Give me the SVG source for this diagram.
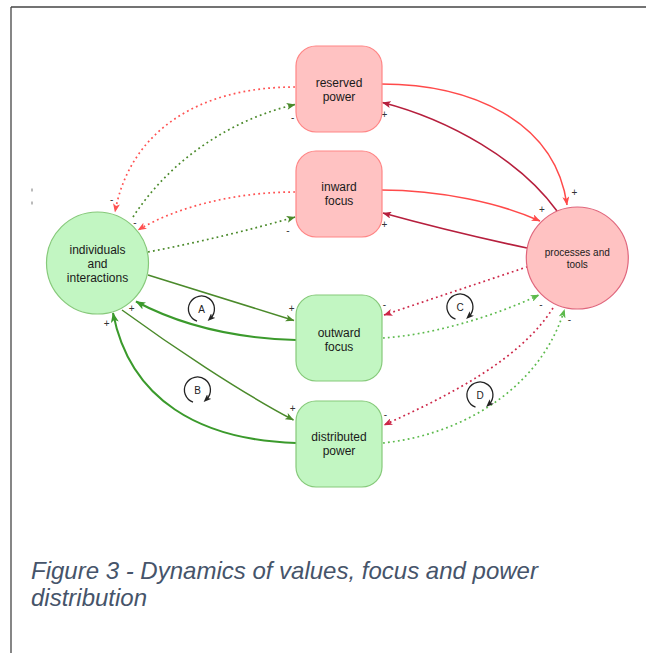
<svg xmlns="http://www.w3.org/2000/svg" width="646" height="653" viewBox="0 0 646 653">
  <style>
    .lbl { font-family: "Liberation Sans", Arial, sans-serif; font-size: 12px; fill: #1a1a1a; text-anchor: middle; }
    .small { font-size: 10px; }
    .sign { font-family: "Liberation Sans", Arial, sans-serif; font-size: 10px; fill: #333; text-anchor: middle; }
    .loop-letter { font-family: "Liberation Sans", Arial, sans-serif; font-size: 10px; fill: #222; text-anchor: middle; }
    .redNode { fill: #ffc2c2; stroke: #ff8585; stroke-width: 1.2; }
    .greenNode { fill: #c2f6c2; stroke: #86c97a; stroke-width: 1.2; }
    .procNode { fill: #ffc2c2; stroke: #e0667c; stroke-width: 1.2; }
    .edge { fill: none; }
    .dot { stroke-dasharray: 1.8 3.2; stroke-width: 1.7; }
    .caption { font-family: "Liberation Sans", Arial, sans-serif; font-size: 24px; font-style: italic; fill: #46546a; }
  </style>
  <defs>
    <marker id="mRed" viewBox="0 0 10 8" refX="9.5" refY="4" markerWidth="9" markerHeight="7" markerUnits="userSpaceOnUse" orient="auto">
      <path d="M0,0 L10,4 L0,8 L2.5,4 Z" fill="#ff4a4a"/>
    </marker>
    <marker id="mCrimson" viewBox="0 0 10 8" refX="9.5" refY="4" markerWidth="9" markerHeight="7" markerUnits="userSpaceOnUse" orient="auto">
      <path d="M0,0 L10,4 L0,8 L2.5,4 Z" fill="#b61f3d"/>
    </marker>
    <marker id="mRedDot" viewBox="0 0 10 8" refX="9.5" refY="4" markerWidth="9" markerHeight="7" markerUnits="userSpaceOnUse" orient="auto">
      <path d="M0,0 L10,4 L0,8 L2.5,4 Z" fill="#ff5252"/>
    </marker>
    <marker id="mCrimsonDot" viewBox="0 0 10 8" refX="9.5" refY="4" markerWidth="9" markerHeight="7" markerUnits="userSpaceOnUse" orient="auto">
      <path d="M0,0 L10,4 L0,8 L2.5,4 Z" fill="#cc2748"/>
    </marker>
    <marker id="mGreenDark" viewBox="0 0 10 8" refX="9.5" refY="4" markerWidth="9" markerHeight="7" markerUnits="userSpaceOnUse" orient="auto">
      <path d="M0,0 L10,4 L0,8 L2.5,4 Z" fill="#4b8a2b"/>
    </marker>
    <marker id="mGreenBright" viewBox="0 0 10 8" refX="9.5" refY="4" markerWidth="10" markerHeight="8" markerUnits="userSpaceOnUse" orient="auto">
      <path d="M0,0 L10,4 L0,8 L2.5,4 Z" fill="#3b9a2c"/>
    </marker>
    <marker id="mGreenLight" viewBox="0 0 10 8" refX="9.5" refY="4" markerWidth="9" markerHeight="7" markerUnits="userSpaceOnUse" orient="auto">
      <path d="M0,0 L10,4 L0,8 L2.5,4 Z" fill="#5cba4c"/>
    </marker>
    <marker id="mLoop" viewBox="0 0 10 8" refX="5" refY="4" markerWidth="8" markerHeight="6.5" markerUnits="userSpaceOnUse" orient="auto">
      <path d="M0,0 L10,4 L0,8 L2.5,4 Z" fill="#222"/>
    </marker>
  </defs>

  <rect x="0" y="0" width="646" height="653" fill="#ffffff"/>

  <!-- page frame -->
  <g id="frame" stroke="#444" stroke-width="1.3" fill="none">
    <line x1="11" y1="7" x2="646" y2="7"/>
    <line x1="11" y1="7" x2="11" y2="653"/>
  </g>
  <g id="tick-marks" stroke="#777" stroke-width="1">
    <line x1="32" y1="188.5" x2="32" y2="191.5"/>
    <line x1="32" y1="201.5" x2="32" y2="204.5"/>
  </g>

  <!-- connectors -->
  <g id="connectors" class="edge">
    <!-- red / crimson solid links with processes and tools -->
    <path class="edge" d="M381,84 C470,84 555,120 567,205" stroke="#ff4a4a" stroke-width="1.5" marker-end="url(#mRed)"/>
    <path class="edge" d="M557,211 C520,160 450,120 382.5,102.5" stroke="#b61f3d" stroke-width="1.6" marker-end="url(#mCrimson)"/>
    <path class="edge" d="M381,190 C440,190 500,203 540,221" stroke="#ff4a4a" stroke-width="1.5" marker-end="url(#mRed)"/>
    <path class="edge" d="M527,248 C480,238 430,226 383,213" stroke="#b61f3d" stroke-width="1.6" marker-end="url(#mCrimson)"/>

    <!-- dotted links between individuals and the red boxes -->
    <path class="edge dot" d="M295,87 C200,87 130,130 115,212" stroke="#ff5252" marker-end="url(#mRedDot)"/>
    <path class="edge dot" d="M133,217 C170,160 230,120 295,104.5" stroke="#4b8a2b" marker-end="url(#mGreenDark)"/>
    <path class="edge dot" d="M295,192 C240,192 180,205 138,230" stroke="#ff5252" marker-end="url(#mRedDot)"/>
    <path class="edge dot" d="M148,252 C200,242 250,230 295,217" stroke="#4b8a2b" marker-end="url(#mGreenDark)"/>

    <!-- solid green links between individuals and the green boxes -->
    <path class="edge" d="M148,275 L294,320.5" stroke="#4b8a2b" stroke-width="1.5" marker-end="url(#mGreenDark)"/>
    <path class="edge" d="M296,340 C230,338 180,325 136,301.5" stroke="#3b9a2c" stroke-width="2" marker-end="url(#mGreenBright)"/>
    <path class="edge" d="M122,310 C170,345 240,392 293.5,420" stroke="#4b8a2b" stroke-width="1.5" marker-end="url(#mGreenDark)"/>
    <path class="edge" d="M296,443 C200,440 130,400 113,313" stroke="#3b9a2c" stroke-width="2" marker-end="url(#mGreenBright)"/>

    <!-- dotted links between processes and the green boxes -->
    <path class="edge dot" d="M527.7,266.7 L384,315" stroke="#cc2748" marker-end="url(#mCrimsonDot)"/>
    <path class="edge dot" d="M383,338 C430,335 490,318 539,295" stroke="#5cba4c" marker-end="url(#mGreenLight)"/>
    <path class="edge dot" d="M553,308 C520,360 450,395 384,425" stroke="#cc2748" marker-end="url(#mCrimsonDot)"/>
    <path class="edge dot" d="M383,443 C460,435 540,390 564.5,309.5" stroke="#5cba4c" marker-end="url(#mGreenLight)"/>
  </g>

  <!-- polarity signs at connector ends -->
  <g id="polarity">
    <text class="sign" x="111.7" y="203">-</text>
    <text class="sign" x="292.7" y="120.5">-</text>
    <text class="sign" x="135" y="226">-</text>
    <text class="sign" x="288" y="233.5">-</text>
    <text class="sign" x="291.7" y="312">+</text>
    <text class="sign" x="131.7" y="312">+</text>
    <text class="sign" x="292.7" y="411.8">+</text>
    <text class="sign" x="106.7" y="326.8">+</text>
    <text class="sign" x="574.3" y="196.2">+</text>
    <text class="sign" x="384.3" y="117.8">+</text>
    <text class="sign" x="542" y="212.8">+</text>
    <text class="sign" x="384.3" y="227.5">+</text>
    <text class="sign" x="384.3" y="308.3">-</text>
    <text class="sign" x="541" y="307.8">-</text>
    <text class="sign" x="385.3" y="418.3">-</text>
    <text class="sign" x="569.3" y="323.3">-</text>
  </g>

  <!-- feedback loop markers -->
  <g id="loop-A">
    <path d="M197,321.2 A13,13 0 1 1 210.5,318.3" fill="none" stroke="#222" stroke-width="1.3" marker-end="url(#mLoop)"/>
    <text class="loop-letter" x="201.5" y="312.6">A</text>
  </g>
  <g id="loop-B">
    <path d="M193,402.2 A13,13 0 1 1 206.5,399.3" fill="none" stroke="#222" stroke-width="1.3" marker-end="url(#mLoop)"/>
    <text class="loop-letter" x="197.5" y="393.6">B</text>
  </g>
  <g id="loop-C">
    <path d="M455.5,319.2 A13,13 0 1 1 469,316.3" fill="none" stroke="#222" stroke-width="1.3" marker-end="url(#mLoop)"/>
    <text class="loop-letter" x="460" y="310.6">C</text>
  </g>
  <g id="loop-D">
    <path d="M475.5,407.2 A13,13 0 1 1 489,404.3" fill="none" stroke="#222" stroke-width="1.3" marker-end="url(#mLoop)"/>
    <text class="loop-letter" x="480" y="398.6">D</text>
  </g>

  <!-- nodes -->
  <g id="reserved-power">
    <rect class="redNode" x="296" y="46" width="86" height="86" rx="20" ry="20"/>
    <text class="lbl" x="339" y="87">reserved</text>
    <text class="lbl" x="339" y="101">power</text>
  </g>
  <g id="inward-focus">
    <rect class="redNode" x="296" y="151" width="86" height="86" rx="20" ry="20"/>
    <text class="lbl" x="339" y="191">inward</text>
    <text class="lbl" x="339" y="205">focus</text>
  </g>
  <g id="outward-focus">
    <rect class="greenNode" x="296" y="295" width="86" height="86" rx="20" ry="20"/>
    <text class="lbl" x="339" y="337">outward</text>
    <text class="lbl" x="339" y="351">focus</text>
  </g>
  <g id="distributed-power">
    <rect class="greenNode" x="296" y="401" width="86" height="86" rx="20" ry="20"/>
    <text class="lbl" x="339" y="441">distributed</text>
    <text class="lbl" x="339" y="455">power</text>
  </g>
  <g id="individuals-and-interactions">
    <circle class="greenNode" cx="97.5" cy="263" r="51"/>
    <text class="lbl" x="97.5" y="254">individuals</text>
    <text class="lbl" x="97.5" y="268">and</text>
    <text class="lbl" x="97.5" y="282">interactions</text>
  </g>
  <g id="processes-and-tools">
    <circle class="procNode" cx="577.3" cy="258" r="51"/>
    <text class="lbl small" x="577.3" y="255.5">processes and</text>
    <text class="lbl small" x="577.3" y="268.2">tools</text>
  </g>

  <!-- caption -->
  <g id="caption">
    <text class="caption" x="31" y="579">Figure 3 - Dynamics of values, focus and power</text>
    <text class="caption" x="31" y="606">distribution</text>
  </g>
</svg>
